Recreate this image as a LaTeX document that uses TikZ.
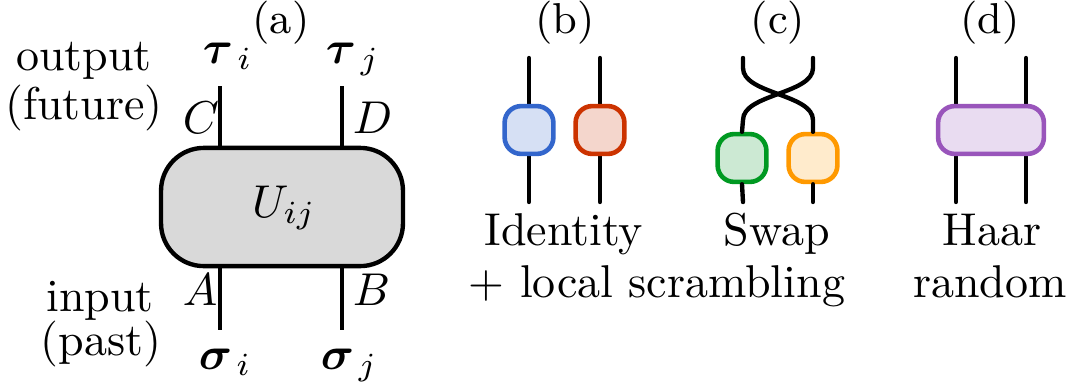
\documentclass[tikz,border=0pt]{standalone}
\usepackage{amsmath,amssymb}
\definecolor{gfill}{HTML}{D9D9D9}
\definecolor{bstroke}{HTML}{3366CC}\definecolor{bfill}{HTML}{D6E0F4}
\definecolor{rstroke}{HTML}{CC3300}\definecolor{rfill}{HTML}{F4D6CC}
\definecolor{gstroke}{HTML}{009922}\definecolor{gfill2}{HTML}{CCE9D3}
\definecolor{ostroke}{HTML}{FF9900}\definecolor{ofill}{HTML}{FFEBCC}
\definecolor{pstroke}{HTML}{9955BB}\definecolor{pfill}{HTML}{E9DCF1}
\begin{document}
\begin{tikzpicture}[x=0.2174pt,y=-0.2174pt,
  txt/.style={inner sep=0pt,anchor=base,font=\fontsize{10}{12}\selectfont},
  lbl/.style={inner sep=0pt,anchor=base,font=\fontsize{9.4}{11}\selectfont},
  mlbl/.style={inner sep=0pt,anchor=base west,font=\fontsize{10}{12}\selectfont},
  wire/.style={line width=0.95pt},
  rwire/.style={line width=0.95pt,line cap=round},
  bigbox/.style={draw,line width=0.95pt,fill=gfill,rounded corners=9.3pt,minimum width=52.6pt,minimum height=25.7pt,inner sep=0pt},
  smallbox/.style={line width=1pt,rounded corners=3.6pt,minimum width=10.6pt,minimum height=10.4pt,inner sep=0pt},
  widebox/.style={line width=1pt,rounded corners=3.6pt,minimum width=23pt,minimum height=10.4pt,inner sep=0pt}]
\useasboundingbox (0,0) rectangle (1075,385);

% ---------- (a)
\node[lbl] (la) at (281,33) {(a)};
\coordinate (ti) at (220,86);
\coordinate (tj) at (342,86);
\coordinate (si) at (220,330);
\coordinate (sj) at (342,330);
\draw[wire] (ti) -- (si);
\draw[wire] (tj) -- (sj);
\node[bigbox] (U) at (282,207) {};
\node[txt] (Ul) at (284,217) {$U_{ij}$};
\node[mlbl] (tau1) at (202,63) {$\boldsymbol{\tau}_{\mkern2mu i}$};
\node[mlbl] (tau2) at (325,63) {$\boldsymbol{\tau}_{\mkern2mu j}$};
\node[mlbl] (sig1) at (198,369) {$\boldsymbol{\sigma}_{\mkern2mu i}$};
\node[mlbl] (sig2) at (320,369) {$\boldsymbol{\sigma}_{\mkern2mu j}$};
\node[mlbl] (C) at (182,133) {$C$};
\node[mlbl] (D) at (352,133) {$D$};
\node[mlbl] (A) at (182,305) {$A$};
\node[mlbl] (B) at (352,305) {$B$};
\node[txt] (out1) at (84,70) {output};
\node[txt] (out2) at (84,119) {(future)};
\node[txt] (in1) at (100,311) {input};
\node[txt] (in2) at (101,355) {(past)};

% ---------- (b)
\node[lbl] (lb) at (565,33) {(b)};
\coordinate (b1t) at (529,58); \coordinate (b1b) at (529,202);
\coordinate (b2t) at (600,58); \coordinate (b2b) at (600,202);
\draw[rwire] (b1t) -- (b1b);
\draw[rwire] (b2t) -- (b2b);
\node[smallbox,draw=bstroke,fill=bfill] (bb) at (529,130) {};
\node[smallbox,draw=rstroke,fill=rfill] (br) at (600,130) {};
\node[txt] (id) at (564,245) {Identity};
\node[txt] (loc) at (657,297) {+ local scrambling};

% ---------- (c)
\node[lbl] (lc) at (778,33) {(c)};
\coordinate (c1t) at (743,58); \coordinate (c1b) at (743,202);
\coordinate (c2t) at (813,58); \coordinate (c2b) at (813,202);
\node[smallbox,draw=gstroke,fill=gfill2] (cg) at (742,158) {};
\node[smallbox,draw=ostroke,fill=ofill] (co) at (813,158) {};
\draw[rwire] (c1t) -- (743,68) .. controls (743,94) and (813,94) .. (813,120) -- (co.north);
\draw[rwire] (c2t) -- (813,68) .. controls (813,94) and (743,94) .. (743,120) -- (cg.north);
\draw[rwire] (cg.south) -- (c1b);
\draw[rwire] (co.south) -- (c2b);
\node[txt] (sw) at (777,245) {Swap};

% ---------- (d)
\node[lbl] (ld) at (990,33) {(d)};
\coordinate (d1t) at (956,58); \coordinate (d1b) at (956,202);
\coordinate (d2t) at (1026,58); \coordinate (d2b) at (1026,202);
\draw[rwire] (d1t) -- (d1b);
\draw[rwire] (d2t) -- (d2b);
\node[widebox,draw=pstroke,fill=pfill] (dh) at (991,130) {};
\node[txt] (haar) at (992,245) {Haar};
\node[txt] (rand) at (990,297) {random};
\end{tikzpicture}
\end{document}
